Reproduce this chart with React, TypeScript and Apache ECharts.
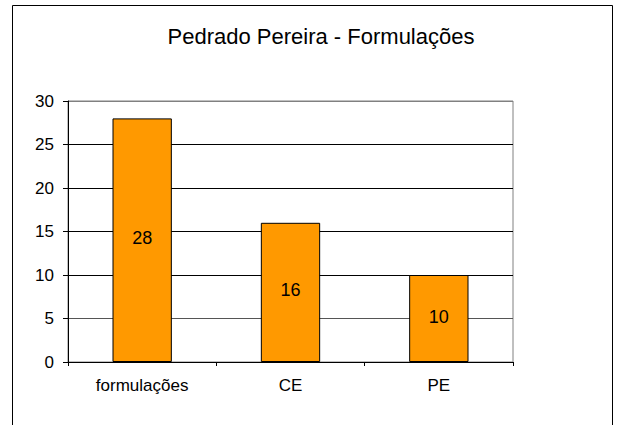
import React, { useEffect, useRef } from "react";
import * as echarts from "echarts";

const titleText = "Pedrado Pereira - Formulações";
const categories = ["formulações", "CE", "PE"];
const values = [28, 16, 10];

export default function App() {
  const ref = useRef<HTMLDivElement>(null);
  useEffect(() => {
    if (!ref.current) return;
    const chart = echarts.init(ref.current, null, { renderer: "svg" });
    const font = "Liberation Sans, Arial, sans-serif";
    chart.setOption({
      animation: false,
      backgroundColor: "#fff",
      title: {
        text: titleText,
        left: 316,
        textAlign: "center",
        top: 20,
        textStyle: { fontFamily: font, fontSize: 22, fontWeight: "normal", color: "#000" },
      },
      graphic: [
        {
          type: "rect",
          shape: { x: 12.5, y: 5.5, width: 600, height: 440 },
          style: { fill: "none", stroke: "#000", lineWidth: 1 },
          silent: true,
        },
      ],
      grid: {
        left: 68,
        right: 104,
        top: 101,
        bottom: 63,
        show: true,
        borderColor: "#808080",
        borderWidth: 1,
      },
      xAxis: {
        type: "category",
        data: categories,
        axisLine: { lineStyle: { color: "#000", width: 1 } },
        axisTick: { show: true, length: 4, lineStyle: { color: "#000" } },
        axisLabel: { fontFamily: font, fontSize: 17, color: "#000", margin: 15 },
      },
      yAxis: {
        type: "value",
        min: 0,
        max: 30,
        interval: 5,
        axisLine: { show: true, lineStyle: { color: "#000", width: 1 } },
        axisTick: { show: true, length: 5, lineStyle: { color: "#000" } },
        axisLabel: { fontFamily: font, fontSize: 17, color: "#000", margin: 14 },
        splitLine: {
          show: true,
          lineStyle: {
            color: ["#000", "#555", "#000", "#000", "#000", "#000", "#808080"],
            width: 1,
          },
        },
      },
      series: [
        {
          type: "bar",
          data: values,
          barWidth: "40%",
          itemStyle: { color: "#FF9900", borderColor: "#000", borderWidth: 1 },
          label: {
            show: true,
            position: "inside",
            offset: [0, -2],
            fontFamily: font,
            fontSize: 18,
            color: "#000",
          },
        },
      ],
    });
    return () => chart.dispose();
  }, []);
  return (
    <div
      ref={ref}
      style={{ position: "fixed", left: 0, top: 0, width: 617, height: 425 }}
    />
  );
}
